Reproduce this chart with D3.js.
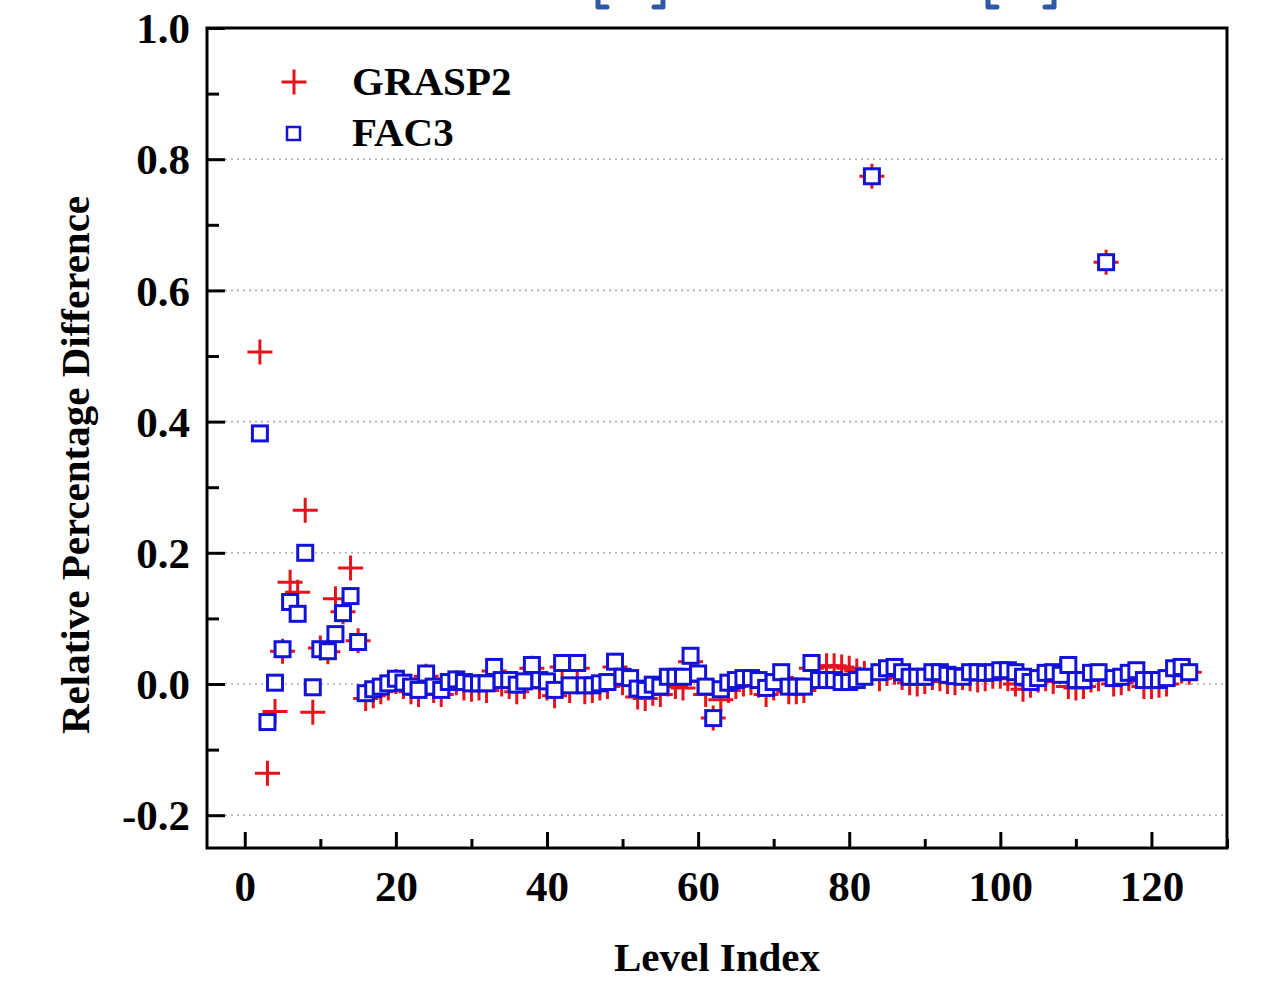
<!DOCTYPE html>
<html>
<head>
<meta charset="utf-8">
<script src="https://cdn.jsdelivr.net/npm/d3@7"></script>
<style>
  html, body { margin: 0; padding: 0; background: #fff; }
  svg { display: block; }
  text { font-family: "Liberation Serif", "Times New Roman", serif; font-weight: bold; }
</style>
</head>
<body>
<svg id="chart" width="1285" height="989"></svg>
<script>
// Level indices start at 2 and run to 125.
const firstLevel = 2;

// Relative percentage difference, GRASP2 (red plus markers)
const grasp2Values = [
  0.506, -0.136, -0.042, 0.050, 0.155, 0.140, 0.265, -0.043, 0.055, 0.049,   // 2-11
  0.130, 0.110, 0.177, 0.066, -0.022, -0.018, -0.012, -0.006, 0.004, -0.004, // 12-21
  -0.012, -0.016, 0.012, -0.010, -0.016, -0.004, 0.002, -0.006, -0.008, -0.006, // 22-31
  -0.010, 0.020, 0.000, -0.004, -0.012, -0.004, 0.024, -0.004, -0.006, -0.018, // 32-41
  0.026, -0.010, 0.024, -0.012, -0.010, -0.006, -0.004, 0.026, 0.002, -0.002, // 42-51
  -0.020, -0.022, -0.014, -0.016, 0.000, -0.004, -0.006, 0.034, 0.004, -0.016, // 52-61
  -0.052, -0.024, -0.010, -0.004, 0.000, 0.002, -0.002, -0.016, -0.006, 0.010, // 62-71
  -0.012, -0.012, -0.010, 0.024, 0.026, 0.028, 0.028, 0.026, 0.024, 0.020,   // 72-81
  0.016, 0.774, 0.008, 0.016, 0.018, 0.010, 0.002, 0.000, 0.004, 0.010,      // 82-91
  0.008, 0.004, 0.002, 0.010, 0.008, 0.006, 0.008, 0.012, 0.012, 0.008,      // 92-101
  0.000, -0.008, -0.002, 0.006, 0.008, 0.004, 0.020, -0.004, -0.006, -0.004, // 102-111
  0.006, 0.008, 0.643, 0.000, 0.002, 0.008, 0.012, -0.004, -0.004, -0.002,   // 112-121
  0.000, 0.016, 0.020, 0.018                                                 // 122-125
];

// Relative percentage difference, FAC3 (blue open squares)
const fac3Values = [
  0.382, -0.058, 0.002, 0.053, 0.125, 0.107, 0.200, -0.005, 0.053, 0.050,    // 2-11
  0.076, 0.108, 0.134, 0.064, -0.014, -0.008, -0.004, 0.001, 0.008, 0.002,   // 12-21
  -0.004, -0.009, 0.016, -0.004, -0.009, 0.003, 0.007, 0.003, 0.001, 0.001,  // 22-31
  0.001, 0.026, 0.006, 0.006, -0.001, 0.004, 0.029, 0.006, 0.004, -0.009,    // 32-41
  0.032, -0.002, 0.032, -0.002, -0.002, 0.001, 0.003, 0.034, 0.011, 0.009,   // 42-51
  -0.007, -0.009, -0.001, -0.004, 0.011, 0.011, 0.011, 0.043, 0.016, -0.004, // 52-61
  -0.052, -0.008, 0.002, 0.006, 0.009, 0.009, 0.006, -0.006, 0.003, 0.018,   // 62-71
  -0.004, -0.004, -0.004, 0.032, 0.006, 0.006, 0.006, 0.003, 0.003, 0.006,   // 72-81
  0.011, 0.774, 0.018, 0.024, 0.026, 0.018, 0.011, 0.011, 0.011, 0.018,      // 82-91
  0.018, 0.014, 0.012, 0.011, 0.018, 0.018, 0.017, 0.018, 0.021, 0.021,      // 92-101
  0.018, 0.011, 0.003, 0.009, 0.017, 0.018, 0.014, 0.029, 0.006, 0.006,      // 102-111
  0.017, 0.018, 0.643, 0.009, 0.011, 0.017, 0.021, 0.006, 0.006, 0.006,      // 112-121
  0.009, 0.024, 0.026, 0.018                                                 // 122-125
];

const seriesNames = ["GRASP2", "FAC3"];
const xTickValues = [0, 20, 40, 60, 80, 100, 120];
const xMinorTickValues = [10, 30, 50, 70, 90, 110, 130];
const yTickValues = [-0.2, 0.0, 0.2, 0.4, 0.6, 0.8, 1.0];
const yMinorTickValues = [-0.1, 0.1, 0.3, 0.5, 0.7, 0.9];
const gridValues = [-0.2, 0.0, 0.2, 0.4, 0.6, 0.8];

const svg = d3.select("#chart");
const plot = { left: 207, top: 28, right: 1227, bottom: 848 };

const x = d3.scaleLinear().domain([-5, 130]).range([plot.left, plot.right]);
const y = d3.scaleLinear().domain([-0.25, 1.0]).range([plot.bottom, plot.top]);

const red = "#e8121a";
const blue = "#1212d8";

// Cropped bracket glyph bottoms along the top edge
const bracketColor = "#2f58a6";
const brackets = [
  { at: 598, dir: 1 }, { at: 663, dir: -1 }, { at: 988, dir: 1 }, { at: 1054, dir: -1 }
];
svg.append("g").selectAll("path").data(brackets).join("path")
  .attr("d", d => `M${d.at},0 V7 H${d.at + d.dir * 9}`)
  .attr("fill", "none").attr("stroke", bracketColor)
  .attr("stroke-width", 5).attr("stroke-linejoin", "round").attr("stroke-linecap", "round");

// Dotted horizontal grid
svg.append("g").selectAll("line").data(gridValues).join("line")
  .attr("x1", plot.left).attr("x2", plot.right)
  .attr("y1", d => y(d)).attr("y2", d => y(d))
  .attr("stroke", "#b0b0b0").attr("stroke-width", 1.6)
  .attr("stroke-dasharray", "2,4");

// Axes (ticks point into the plot); negative labels use a plain hyphen
const fontTick = "43px";
const fmtY = d => d3.format(".1f")(d).replace("\u2212", "-");
const yAxis = svg.append("g").attr("transform", `translate(${plot.left},0)`)
  .call(d3.axisLeft(y).tickValues(yTickValues).tickSize(-18).tickPadding(17)
    .tickFormat(fmtY));
const yMinor = svg.append("g").attr("transform", `translate(${plot.left},0)`)
  .call(d3.axisLeft(y).tickValues(yMinorTickValues).tickSize(-12).tickFormat(""));
const xAxis = svg.append("g").attr("transform", `translate(0,${plot.bottom})`)
  .call(d3.axisBottom(x).tickValues(xTickValues).tickSize(-16).tickPadding(22)
    .tickFormat(d3.format("d")));
const xMinor = svg.append("g").attr("transform", `translate(0,${plot.bottom})`)
  .call(d3.axisBottom(x).tickValues(xMinorTickValues).tickSize(-9).tickFormat(""));

[yAxis, yMinor, xAxis, xMinor].forEach(g => {
  g.select(".domain").remove();
  g.selectAll(".tick line").attr("stroke", "#000").attr("stroke-width", 3);
  g.selectAll("text").attr("fill", "#000").style("font-size", fontTick)
    .style("font-family", "'Liberation Serif', 'Times New Roman', serif").style("font-weight", "bold");
});
yAxis.selectAll("text").attr("dy", "0.34em");
xAxis.selectAll("text").attr("dy", "0.71em");

// Plot frame
svg.append("rect")
  .attr("x", plot.left).attr("y", plot.top)
  .attr("width", plot.right - plot.left).attr("height", plot.bottom - plot.top)
  .attr("fill", "none").attr("stroke", "#000").attr("stroke-width", 3);

// Data points
const grasp2 = grasp2Values.map((v, i) => ({ level: firstLevel + i, value: v }));
const fac3 = fac3Values.map((v, i) => ({ level: firstLevel + i, value: v }));

const arm = 12.5;
const plusPath = `M${-arm},0H${arm}M0,${-arm}V${arm}`;
const sq = 15;

svg.append("g").selectAll("path").data(grasp2).join("path")
  .attr("transform", d => `translate(${x(d.level)},${y(d.value)})`)
  .attr("d", plusPath)
  .attr("stroke", red).attr("stroke-width", 3).attr("fill", "none");

svg.append("g").selectAll("rect").data(fac3).join("rect")
  .attr("x", d => x(d.level) - sq / 2).attr("y", d => y(d.value) - sq / 2)
  .attr("width", sq).attr("height", sq)
  .attr("fill", "#fff").attr("stroke", blue).attr("stroke-width", 3);

// Legend
const legend = svg.append("g");
legend.append("path").attr("transform", "translate(294,82)").attr("d", plusPath)
  .attr("stroke", red).attr("stroke-width", 3).attr("fill", "none");
legend.append("rect").attr("x", 287).attr("y", 127).attr("width", 13).attr("height", 13)
  .attr("fill", "#fff").attr("stroke", blue).attr("stroke-width", 2.5);
legend.selectAll("text").data(seriesNames).join("text")
  .attr("x", 352).attr("y", (d, i) => 95 + i * 51)
  .style("font-size", "41px").attr("fill", "#000").text(d => d);

// Axis titles
svg.append("text").attr("x", 717).attr("y", 971).attr("text-anchor", "middle")
  .style("font-size", "41px").text("Level Index");
svg.append("text").attr("transform", "translate(89,465) rotate(-90)")
  .attr("text-anchor", "middle").style("font-size", "41px")
  .text("Relative Percentage Difference");
</script>
</body>
</html>
